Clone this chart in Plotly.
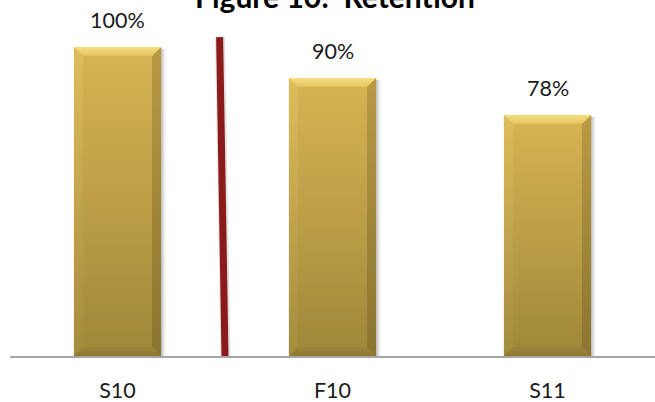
import plotly.graph_objects as go

# Retention by term
categories = ["S10", "F10", "S11"]
retention = [1.00, 0.90, 0.78]
value_labels = ["100%", "90%", "78%"]
title_text = "Figure 10:  Retention"

positions = list(range(len(categories)))
HALF = 0.2025          # half bar width (x units)
BX, BY = 0.042, 0.029  # bevel size (x units, y units)
FONT = "Lato"

fig = go.Figure()

# soft drop shadow to the right of each bar
for i, v in zip(positions, retention):
    for off, alpha in [(0.022, 0.05), (0.014, 0.08), (0.007, 0.10)]:
        fig.add_trace(go.Scatter(
            x=[i - HALF + off, i + HALF + off, i + HALF + off, i - HALF + off],
            y=[v - 0.006, v - 0.006, 0, 0],
            fill="toself", fillcolor=f"rgba(0,0,0,{alpha})",
            line=dict(width=0), mode="lines", hoverinfo="skip", showlegend=False))

# bar bodies
fig.add_trace(go.Bar(
    x=positions, y=retention, width=2 * HALF,
    marker=dict(color="#C4A448", line=dict(width=0)),
    hoverinfo="x+y", showlegend=False))


def poly(xs, ys, scale, start, stop):
    fig.add_trace(go.Scatter(
        x=xs, y=ys, fill="toself", mode="lines", line=dict(width=0),
        fillgradient=dict(type="vertical", colorscale=scale, start=start, stop=stop),
        hoverinfo="skip", showlegend=False))


for i, v in zip(positions, retention):
    xl, xr = i - HALF, i + HALF
    # face with vertical shading
    poly([xl, xr, xr, xl], [v, v, 0, 0],
         [[0, "#9E873A"], [0.45, "#BA9C45"], [1, "#D6B454"]], 0, v)
    # left bevel
    poly([xl, xl + BX, xl + BX, xl], [v, v - BY, BY, 0],
         [[0, "#A48C3E"], [1, "#DDBD5C"]], 0, v)
    # right bevel
    poly([xr, xr - BX, xr - BX, xr], [v, v - BY, BY, 0],
         [[0, "#8A7430"], [1, "#B99A44"]], 0, v)
    # bottom bevel
    poly([xl, xr, xr - BX, xl + BX], [0, 0, BY, BY],
         [[0, "#8E7832"], [1, "#9C853A"]], 0, BY)
    # top bevel
    poly([xl, xr, xr - BX, xl + BX], [v, v, v - BY, v - BY],
         [[0, "#E4C460"], [1, "#F6DE82"]], v - BY, v)

# value labels above the bars
for i, v, t in zip(positions, retention, value_labels):
    fig.add_annotation(x=i, y=v, text=t, showarrow=False, yanchor="bottom",
                       yshift=12, font=dict(family=FONT, size=21.5, color="#1a1a1a"))

# title
fig.add_annotation(x=0.504, y=1, xref="paper", yref="paper", text=f"<b>{title_text}</b>",
                   showarrow=False, xanchor="center", yanchor="bottom", yshift=14,
                   font=dict(family=FONT, size=30, color="#000000"))

# dividing line between S10 and F10
fig.add_shape(type="line", xref="x", yref="y", x0=0.502, y0=0, x1=0.477, y1=1.032,
              line=dict(color="rgba(0,0,0,0.12)", width=10))
fig.add_shape(type="line", xref="x", yref="y", x0=0.5, y0=0, x1=0.475, y1=1.032,
              line=dict(color="#8B1A1A", width=7))

fig.update_layout(
    width=655, height=402,
    margin=dict(l=10, r=0, t=30, b=46),
    paper_bgcolor="white", plot_bgcolor="white",
    showlegend=False,
    xaxis=dict(range=[-0.5, 2.5], tickvals=positions, ticktext=categories,
               showgrid=False, zeroline=False, showline=True,
               linecolor="#A6A6A6", linewidth=2, ticks="",
               tickfont=dict(family=FONT, size=21.5, color="#1a1a1a"),
               ticklabelstandoff=14),
    yaxis=dict(range=[0, 1.055], visible=False, showgrid=False, zeroline=False),
)

fig.write_html("out.html")
